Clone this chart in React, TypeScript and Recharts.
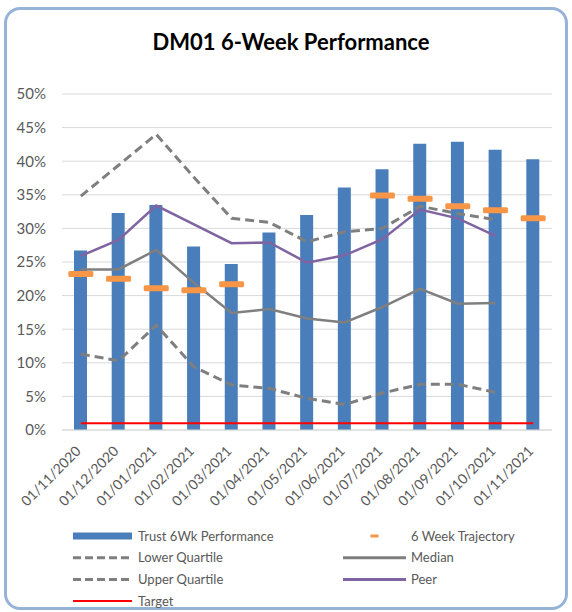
import {
  Bar,
  CartesianGrid,
  ComposedChart,
  Legend,
  Line,
  XAxis,
  YAxis,
} from "recharts";

// months on the x axis
const months = [
  "01/11/2020",
  "01/12/2020",
  "01/01/2021",
  "01/02/2021",
  "01/03/2021",
  "01/04/2021",
  "01/05/2021",
  "01/06/2021",
  "01/07/2021",
  "01/08/2021",
  "01/09/2021",
  "01/10/2021",
  "01/11/2021",
];

// values in percent
const trust = [26.7, 32.3, 33.5, 27.3, 24.7, 29.4, 32.0, 36.1, 38.8, 42.6, 42.9, 41.7, 40.3];
const trajectory = [23.2, 22.5, 21.1, 20.8, 21.7, null, null, null, 34.9, 34.4, 33.3, 32.7, 31.5];
const lowerQuartile = [11.3, 10.3, 15.6, 9.4, 6.7, 6.2, 4.7, 3.8, 5.5, 6.8, 6.8, 5.6, null];
const median = [23.9, 23.9, 26.8, 21.9, 17.4, 18.0, 16.6, 16.0, 18.3, 21.0, 18.8, 18.9, null];
const upperQuartile = [34.8, 39.4, 44.0, 37.6, 31.5, 30.9, 28.0, 29.5, 30.0, 33.3, 32.2, 31.3, null];
const peer = [25.9, 28.3, 33.4, 30.6, 27.8, 27.9, 24.9, 26.0, 28.4, 32.8, 31.5, 28.9, null];
const target = [1, 1, 1, 1, 1, 1, 1, 1, 1, 1, 1, 1, 1];

const yTicks = [0, 5, 10, 15, 20, 25, 30, 35, 40, 45, 50];

const seriesNames = [
  "Trust 6Wk Performance",
  "6 Week Trajectory",
  "Lower Quartile",
  "Median",
  "Upper Quartile",
  "Peer",
  "Target",
];

const FONT = "Lato, 'Open Sans', sans-serif";
const TEXT = "#595959";
const GREY = "#7f7f7f";
const BLUE = "#4a7ebb";
const ORANGE = "#f79646";
const PURPLE = "#8064a2";
const RED = "#ff0000";

const data = months.map((m, i) => ({
  month: m,
  trust: trust[i],
  trajectory: trajectory[i],
  lowerQuartile: lowerQuartile[i],
  median: median[i],
  upperQuartile: upperQuartile[i],
  peer: peer[i],
  target: target[i],
}));

const XTick = ({ x, y, payload }: any) => {
  const tx = x + 1;
  const ty = y + 14;
  return (
    <text
      x={tx}
      y={ty}
      transform={`rotate(-45, ${tx}, ${ty})`}
      textAnchor="end"
      fill={TEXT}
      fontSize={14}
      fontFamily={FONT}>
      {payload.value}
    </text>
  );
};

const TrajectoryDot = (props: any) => {
  const { cx, cy, value, index } = props;
  if (value == null || cy == null) return <g key={`t-${index}`} />;
  return (
    <rect
      key={`t-${index}`}
      x={cx - 12.5}
      y={cy - 3}
      width={25}
      height={6}
      rx={1.5}
      fill={ORANGE}
    />
  );
};

// legend symbol per series
const legendSymbol = (i: number, x1: number, x2: number, y: number) => {
  switch (i) {
    case 0:
      return <rect x={x1} y={y - 3.5} width={x2 - x1} height={7} fill={BLUE} />;
    case 1:
      return (
        <rect x={(x1 + x2) / 2 - 4} y={y - 1.5} width={8} height={3} fill={ORANGE} />
      );
    case 2:
    case 4:
      return (
        <line x1={x1} x2={x2} y1={y} y2={y} stroke={GREY} strokeWidth={3} strokeDasharray="8 4" />
      );
    case 3:
      return <line x1={x1} x2={x2} y1={y} y2={y} stroke={GREY} strokeWidth={3} />;
    case 5:
      return <line x1={x1} x2={x2} y1={y} y2={y} stroke={PURPLE} strokeWidth={3} />;
    default:
      return <line x1={x1} x2={x2} y1={y} y2={y} stroke={RED} strokeWidth={2} />;
  }
};

const ChartLegend = () => (
  <svg width={572} height={92}>
    {seriesNames.map((name, i) => {
      const col = i % 2;
      const row = Math.floor(i / 2);
      const y = 16 + row * 21.7;
      const x1 = col === 0 ? 73 : 343;
      const x2 = col === 0 ? 132 : 406;
      const tx = col === 0 ? 138 : 411;
      return (
        <g key={name}>
          {legendSymbol(i, x1, x2, y)}
          <text x={tx} y={y + 4.5} fontSize={13} fill={TEXT} fontFamily={FONT}>
            {name}
          </text>
        </g>
      );
    })}
  </svg>
);

export default function App() {
  return (
    <div
      style={{
        position: "absolute",
        left: 0,
        top: 0,
        width: 572,
        height: 612,
        background: "#fff",
        fontFamily: FONT,
      }}>
      <div
        style={{
          position: "absolute",
          left: 4,
          top: 7,
          width: 564,
          height: 603,
          boxSizing: "border-box",
          border: "3px solid #95b3d7",
          borderRadius: 16,
        }}
      />
      <div
        style={{
          position: "absolute",
          left: 0,
          top: 28,
          width: 582,
          textAlign: "center",
          fontSize: 22,
          fontWeight: 700,
          color: "#000",
        }}>
        DM01 6-Week Performance
      </div>
      <ComposedChart
        width={572}
        height={612}
        data={data}
        margin={{ top: 94, right: 20, bottom: 92, left: 0 }}>
        <CartesianGrid vertical={false} stroke="#d9d9d9" />
        <XAxis
          dataKey="month"
          height={90}
          interval={0}
          tickLine={false}
          axisLine={{ stroke: "#d9d9d9" }}
          tick={<XTick />}
        />
        <YAxis
          width={62}
          domain={[0, 50]}
          ticks={yTicks}
          tickFormatter={(v: number) => `${v}%`}
          axisLine={false}
          tickLine={false}
          tickMargin={10}
          tick={{ fill: TEXT, fontSize: 15, fontFamily: FONT }}
        />
        <Bar dataKey="trust" fill={BLUE} barSize={13} isAnimationActive={false} />
        <Line
          dataKey="trajectory"
          stroke="none"
          dot={TrajectoryDot}
          activeDot={false}
          isAnimationActive={false}
        />
        <Line
          dataKey="lowerQuartile"
          type="linear"
          stroke={GREY}
          strokeWidth={3}
          strokeDasharray="9 5"
          dot={false}
          isAnimationActive={false}
        />
        <Line
          dataKey="median"
          type="linear"
          stroke={GREY}
          strokeWidth={2.5}
          dot={false}
          isAnimationActive={false}
        />
        <Line
          dataKey="upperQuartile"
          type="linear"
          stroke={GREY}
          strokeWidth={3}
          strokeDasharray="9 5"
          dot={false}
          isAnimationActive={false}
        />
        <Line
          dataKey="peer"
          type="linear"
          stroke={PURPLE}
          strokeWidth={2.5}
          dot={false}
          isAnimationActive={false}
        />
        <Line
          dataKey="target"
          type="linear"
          stroke={RED}
          strokeWidth={2}
          dot={false}
          isAnimationActive={false}
        />
        <Legend
          verticalAlign="middle"
          layout="horizontal"
          wrapperStyle={{ left: 0, top: 520, width: 572, height: 92 }}
          content={<ChartLegend />}
        />
      </ComposedChart>
    </div>
  );
}
